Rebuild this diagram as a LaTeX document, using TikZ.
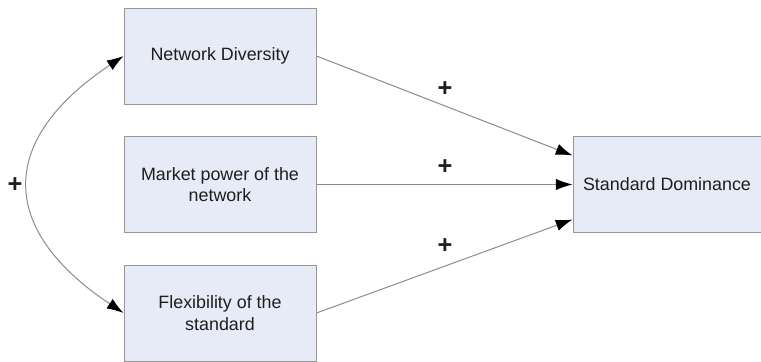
\documentclass[tikz,border=0pt]{standalone}
\usepackage{fontspec}
\setmainfont{Liberation Sans}
\usetikzlibrary{arrows.meta,calc}
\definecolor{boxfill}{RGB}{231,235,248}
\definecolor{boxline}{RGB}{150,150,150}
\definecolor{linkline}{RGB}{140,140,140}
\definecolor{txt}{RGB}{30,30,30}
\begin{document}
\begin{tikzpicture}[x=0.75pt,y=0.75pt,yscale=-1,xscale=1,
  factor/.style={draw=boxline,fill=boxfill,line width=0.75pt,minimum width=144pt,minimum height=72pt,align=center,text=txt,font=\fontsize{13.4}{16}\selectfont,inner sep=0.75pt},
  tip/.style={Latex[black,length=12.5pt,width=8.5pt]},
  link/.style={draw=linkline,line width=0.75pt,-{Latex[black,length=12.5pt,width=8.5pt]}},
  sign/.style={text=txt,font=\fontsize{19}{20}\selectfont\bfseries,inner sep=0.75pt}]
\useasboundingbox (0,0) rectangle (761,361);

%Shape: Rectangle [id:nd]
\node (nd) at (220,56) [factor] {Network Diversity};
%Shape: Rectangle [id:mp]
\node (mp) at (220,184.5) [factor] {Market power of the\\network};
%Shape: Rectangle [id:fs]
\node (fs) at (220,313) [factor] {Flexibility of the\\standard};
%Shape: Rectangle [id:sd]
\node (sd) at (667,184.5) [factor,minimum width=141pt] {Standard Dominance};

\coordinate (sd-top) at ($(sd.west)+(0,-29)$);
\coordinate (sd-bot) at ($(sd.west)+(0,35)$);

%Straight Lines
\draw [link] (nd.east) -- (sd-top);
%Straight Lines
\draw [link] (mp.east) -- (sd.west);
%Straight Lines
\draw [link] (fs.east) -- (sd-bot);
%Curve Lines
\draw [link,{Latex[black,length=12.5pt,width=8.5pt]}-{Latex[black,length=12.5pt,width=8.5pt]}] (nd.west) .. controls ($(nd.west)+(-126,84)$) and ($(fs.west)+(-126,-84)$) .. (fs.west);

% Text Node
\node (p1) at (445,89) [sign] {+};
% Text Node
\node (p2) at (445,167) [sign] {+};
% Text Node
\node (p3) at (445,246) [sign] {+};
% Text Node
\node (p4) at (15,185) [sign] {+};

\end{tikzpicture}
\end{document}
